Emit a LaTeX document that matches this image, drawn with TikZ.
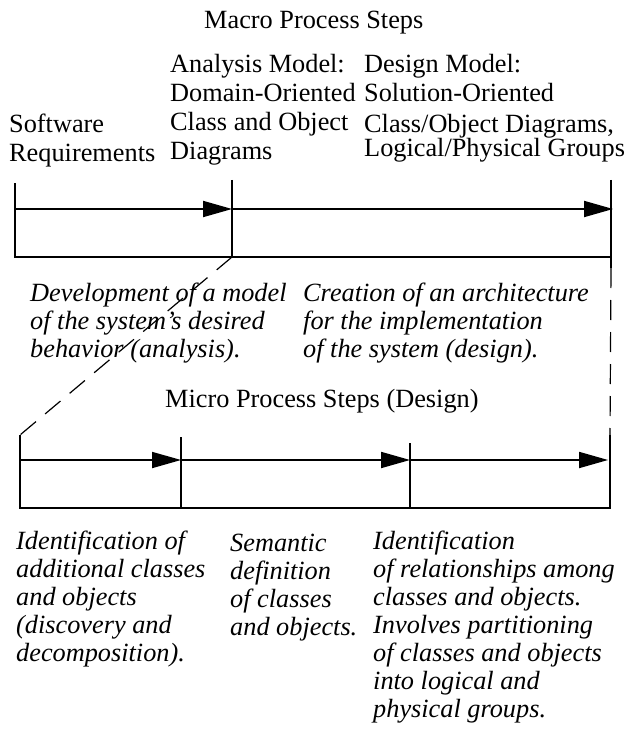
\documentclass[tikz,border=0pt]{standalone}
\usepackage{fontspec}
\setmainfont{Liberation Serif}
\usetikzlibrary{arrows.meta}
\begin{document}
\begin{tikzpicture}[x=1pt,y=-1pt,
  bar/.style={line width=1.8pt},
  flow/.style={line width=1.8pt,-{Triangle[length=29pt,width=16pt]}},
  guide/.style={line width=1.2pt,dash pattern=on 20pt off 12pt},
  head/.style={inner sep=0pt,anchor=north west,yshift=20.3pt,align=left,
    font=\fontsize{26.3}{29}\selectfont},
  note/.style={inner sep=0pt,anchor=north west,yshift=19.6pt,align=left,
    font=\fontsize{26.3}{28}\selectfont\itshape},
]
\useasboundingbox (0,0) rectangle (628,730);

% ---- macro time line ----
\coordinate (ma) at (15,209);
\coordinate (mb) at (232,209);
\coordinate (mc) at (613,209);
\coordinate (m0t) at (15,183);
\coordinate (m0b) at (15,257);
\coordinate (m1t) at (232,180);
\coordinate (m1b) at (232,257);
\coordinate (m2t) at (611,180);
\coordinate (m2c) at (611,257);
\coordinate (m2b) at (611,268);

\draw[bar] (m0t) -- (m0b) -- (m2c);
\draw[bar] (m1t) -- (m1b);
\draw[bar] (m2t) -- (m2b);
\draw[flow] (ma) -- (mb);
\draw[flow] (mb) -- (mc);

% ---- micro time line ----
\coordinate (ua) at (20,460);
\coordinate (ub) at (181,460);
\coordinate (uc) at (410,460);
\coordinate (ud) at (608,460);
\coordinate (u0t) at (20,435);
\coordinate (u0b) at (20,508);
\coordinate (u1t) at (181,437);
\coordinate (u1b) at (181,508);
\coordinate (u2t) at (410,443);
\coordinate (u2b) at (410,508);
\coordinate (u3t) at (610,435);
\coordinate (u3b) at (610,508);

\draw[bar] (u0t) -- (u0b) -- (u3b) -- (u3t);
\draw[bar] (u1t) -- (u1b);
\draw[bar] (u2t) -- (u2b);
\draw[flow] (ua) -- (ub);
\draw[flow] (ub) -- (uc);
\draw[flow] (uc) -- (ud);

% ---- zoom guides from the design phase ----
\draw[guide] (m1b) -- (u0t);
\draw[guide] (m2b) -- (u3t);

% ---- headings ----
\node[head] (macro) at (204,28) {\strut Macro Process Steps};
\node[head] (req) at (9,132) {\strut Software\\Requirements};
\node[head] (ana) at (170,72) {\strut Analysis Model:\\Domain-Oriented\\Class and Object\\Diagrams};
\node[head] (des) at (364,72) {\strut Design Model:\\Solution-Oriented\\[2pt]Class/Object Diagrams,\\[-5pt]Logical/Physical Groups};
\node[head] (micro) at (165,407) {\strut Micro Process Steps (Design)};

% ---- phase descriptions ----
\node[note] (dev) at (30,301) {\strut Development of a model\\of the system's desired\\behavior (analysis).};
\node[note] (arch) at (303,301) {\strut Creation of an architecture\\for the implementation\\of the system (design).};
\node[note] (ident) at (16,549) {\strut Identification of\\additional classes\\and objects\\(discovery and\\decomposition).};
\node[note] (sem) at (230,551) {\strut Semantic\\definition\\of classes\\and objects.};
\node[note] (rel) at (373,549) {\strut Identification\\of relationships among\\classes and objects.\\Involves partitioning\\of classes and objects\\into logical and\\physical groups.};
\end{tikzpicture}
\end{document}
